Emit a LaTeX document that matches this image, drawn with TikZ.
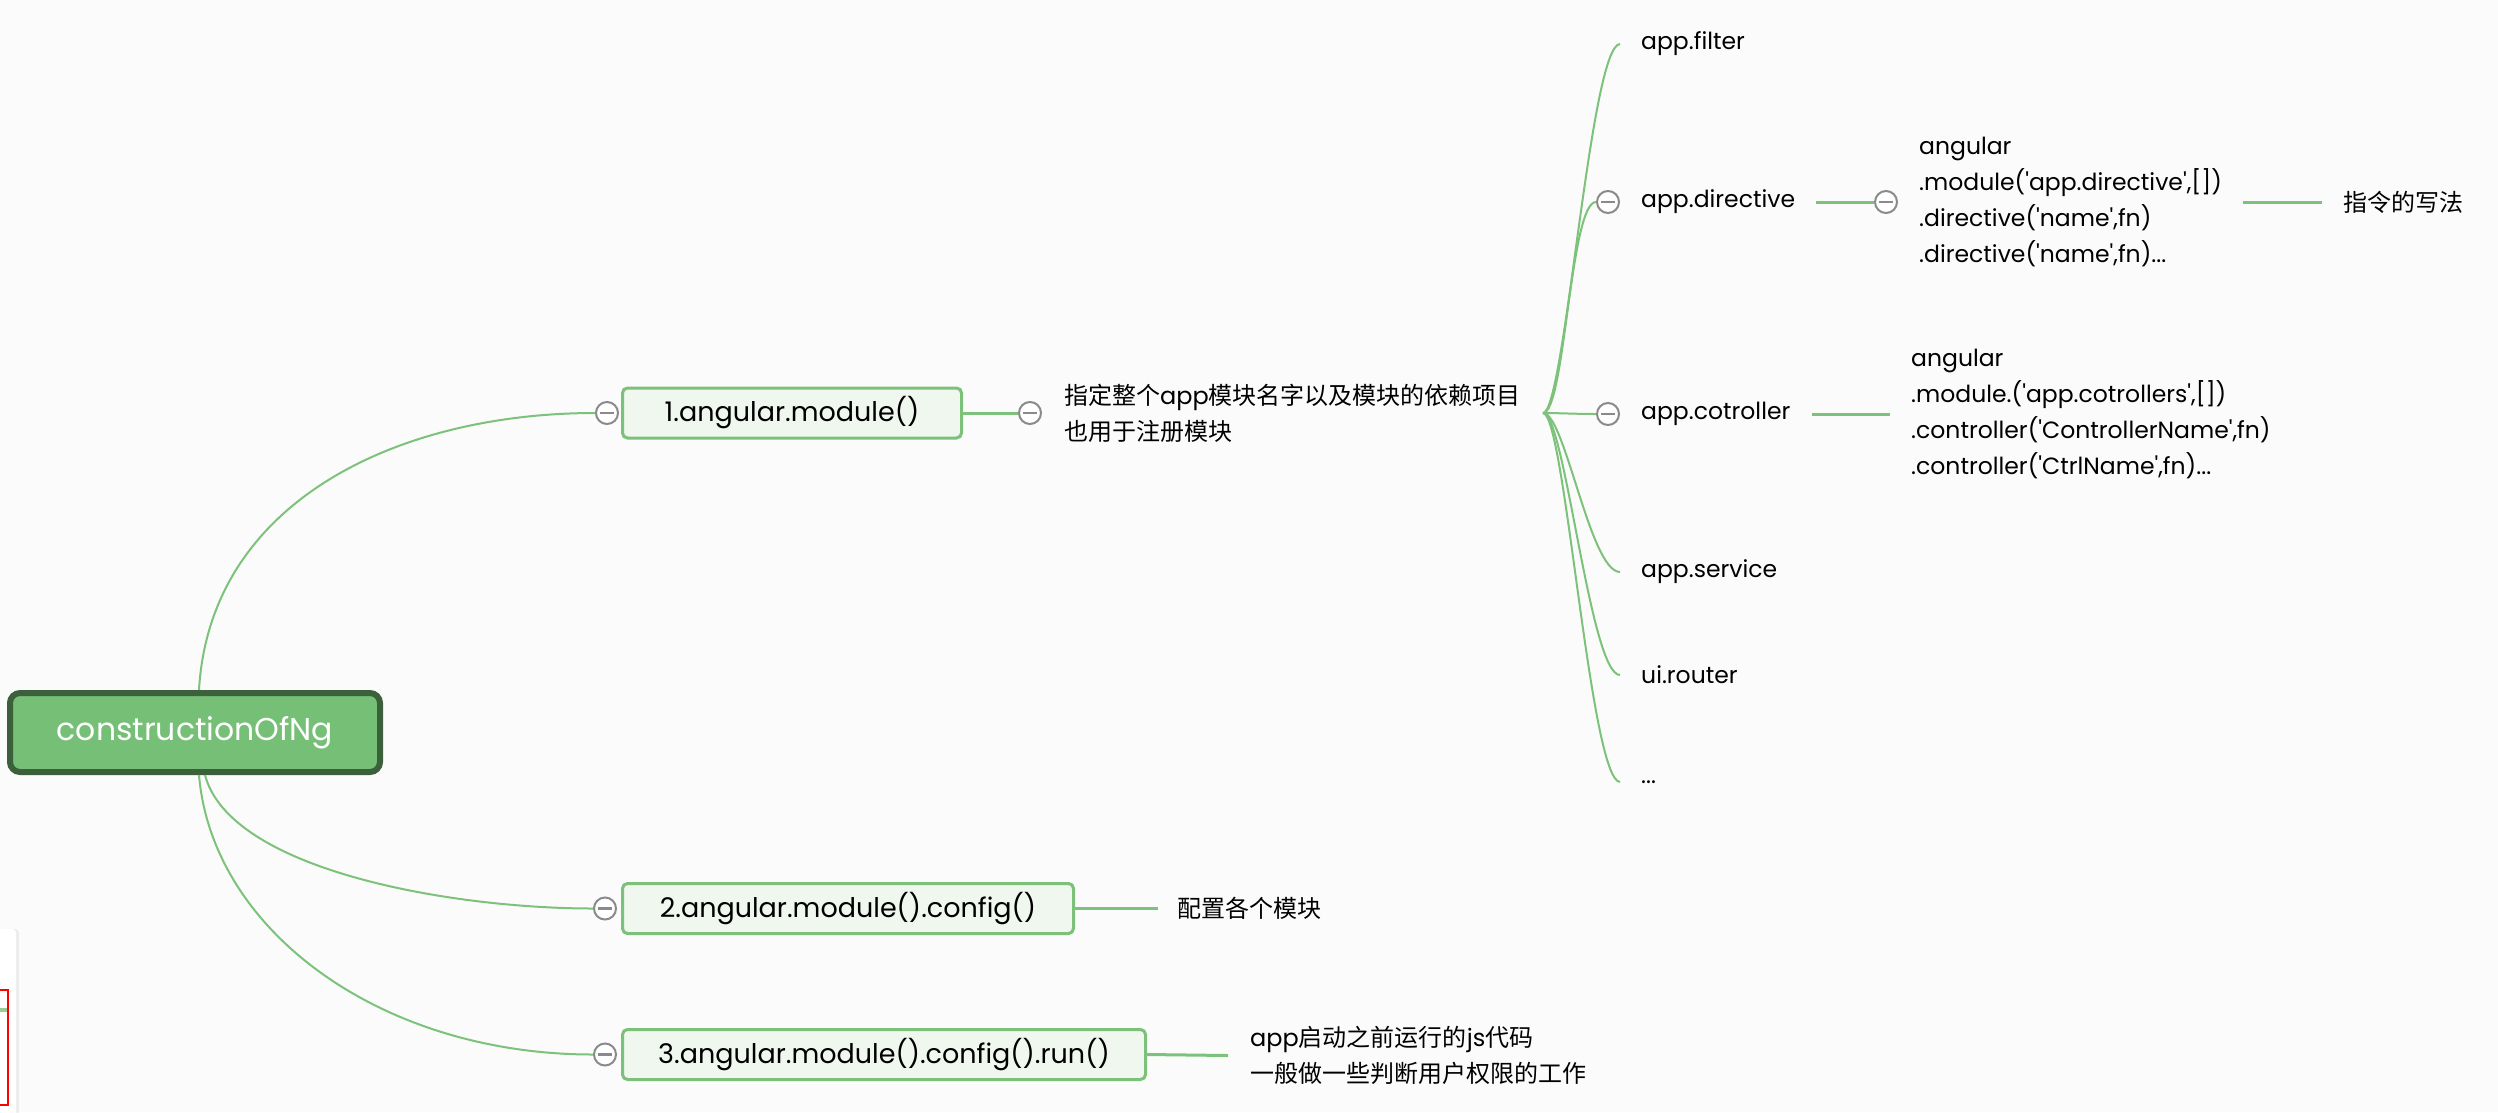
\documentclass[tikz,border=0pt]{standalone}
\usepackage{fontspec}
\setmainfont{Poppins}[Ligatures=TeXOff]
\newfontfamily\cjk{Noto Sans CJK SC}
\newcommand\latn[1]{{\rmfamily #1}}
\usetikzlibrary{calc,shadows}
\definecolor{bgc}{HTML}{FBFBFB}
\definecolor{edgec}{HTML}{7DC27B}
\definecolor{rootfill}{HTML}{76BF76}
\definecolor{rootline}{HTML}{3C5F3C}
\definecolor{boxfill}{HTML}{EFF7EE}
\definecolor{boxline}{HTML}{7CC07A}
\definecolor{knobc}{HTML}{8A8A8A}
\tikzset{
  rootbox/.style={draw=rootline, fill=rootfill, line width=6pt, rounded corners=10pt,
    minimum width=370pt, minimum height=79pt, text=white, font=\fontsize{31.5}{34}\selectfont, inner sep=0pt},
  topicbox/.style={draw=boxline, fill=boxfill, line width=3pt, rounded corners=5pt,
    minimum height=50pt, font=\fontsize{27}{30}\selectfont, inner sep=0pt},
  knob/.style={circle, draw=knobc, line width=2pt, fill=white, minimum size=22pt, inner sep=0pt,
    path picture={\draw[knobc, line width=2.5pt] ([xshift=-7pt]path picture bounding box.center) -- ([xshift=7pt]path picture bounding box.center);}},
  leaf/.style={anchor=west, inner xsep=21pt, inner ysep=0pt, font=\fontsize{23.5}{36}\selectfont},
  cjkleaf/.style={anchor=west, inner xsep=21pt, inner ysep=0pt, align=left, font=\cjk\fontsize{24}{36}\selectfont},
  codeleaf/.style={anchor=west, inner xsep=21pt, inner ysep=0pt, align=left, font=\fontsize{23.5}{36}\selectfont},
  curve/.style={draw=edgec, line width=2pt},
  link/.style={draw=edgec, line width=3pt},
}
\begin{document}
\begin{tikzpicture}[x=1pt,y=-1pt]
\fill[bgc] (0,0) rectangle (2498,1112);
\useasboundingbox (0,0) rectangle (2498,1112);

% partial overlay at the lower left edge
\fill[white, drop shadow={shadow xshift=3pt, shadow yshift=0pt, opacity=0.12}, rounded corners=4pt] (-20,929) rectangle (16,1130);
\draw[red, line width=2.5pt] (-5,990) rectangle (8,1105);
\draw[edgec!80, line width=4pt] (0,1010) -- (7,1010);

% root
\node[rootbox] (root) at (195,732.5) {constructionOfNg};

% main topics
\node[topicbox, minimum width=339pt] (t1) at (792,413) {1.angular.module()};
\node[topicbox, minimum width=451pt] (t2) at (848,908.5) {2.angular.module().config()};
\node[topicbox, minimum width=523pt] (t3) at (884,1054.5) {3.angular.module().config().run()};

\node[knob] (k1) at (607,413) {};
\node[knob] (k2) at (605,908.5) {};
\node[knob] (k3) at (605,1054.5) {};
\node[knob] (k1r) at (1030,413) {};

\coordinate (rtop) at (199,690);
\coordinate (rbot1) at (205,775);
\coordinate (rbot2) at (199,775);

\draw[curve] (rtop) .. controls (210,500) and (400,413) .. (k1.west);
\draw[curve] (rbot1) .. controls (230,870) and (450,908.5) .. (k2.west);
\draw[curve] (rbot2) .. controls (212,930) and (380,1054.5) .. (k3.west);

% topic 1 branch
\draw[link] (t1.east) -- (k1r.west);
\node[cjkleaf, inner xsep=22pt] (d1) at (k1r.east) {指定整个\latn{app}模块名字以及模块的依赖项目\\也用于注册模块};
\coordinate (hub) at (1543,413);

\node[leaf] (filter) at (1620,44) {app.filter};
\node[knob] (kdir) at (1608,202) {};
\node[leaf, anchor=west] (dir) at (kdir.east) {app.directive};
\node[knob] (kctl) at (1608,414) {};
\node[leaf] (ctl) at (kctl.east) {app.cotroller};
\node[leaf] (svc) at (1620,572) {app.service};
\node[leaf] (rtr) at (1620,675) {ui.router};
\node[leaf] (etc) at (1620,782) {...};

\draw[curve] (hub) .. controls (1565,413) and (1590,45) .. (filter.west);
\draw[curve] (hub) .. controls (1565,413) and (1570,202) .. (kdir.west);
\draw[curve] (hub) .. controls (1560,413) and (1575,414) .. (kctl.west);
\draw[curve] (hub) .. controls (1565,413) and (1590,572) .. (svc.west);
\draw[curve] (hub) .. controls (1565,413) and (1590,675) .. (rtr.west);
\draw[curve] (hub) .. controls (1565,413) and (1590,780) .. (etc.west);

% directive details
\node[knob] (kdir2) at (1886,202) {};
\draw[link] (dir.east) -- (kdir2.west);
\node[codeleaf] (dircode) at (kdir2.east) {angular\\.module('app.directive',[])\\.directive('name',fn)\\.directive('name',fn)...};
\node[cjkleaf] (dirnote) at (2322,202) {指令的写法};
\draw[link] (dircode.east |- dirnote.west) -- (dirnote.west);

% controller details
\node[codeleaf] (ctlcode) at (1890,414) {angular\\.module.('app.cotrollers',[])\\.controller('ControllerName',fn)\\.controller('CtrlName',fn)...};
\draw[link] (ctl.east) -- (ctlcode.west);

% topic 2 and 3 notes
\node[cjkleaf, inner xsep=19pt] (d2) at (1158,908.5) {配置各个模块};
\draw[link] (t2.east) -- (d2.west);
\node[cjkleaf, inner xsep=22pt] (d3) at (1228,1055.5) {\latn{app}启动之前运行的\latn{js}代码\\一般做一些判断用户权限的工作};
\draw[link] (t3.east) -- (d3.west);
\end{tikzpicture}
\end{document}
